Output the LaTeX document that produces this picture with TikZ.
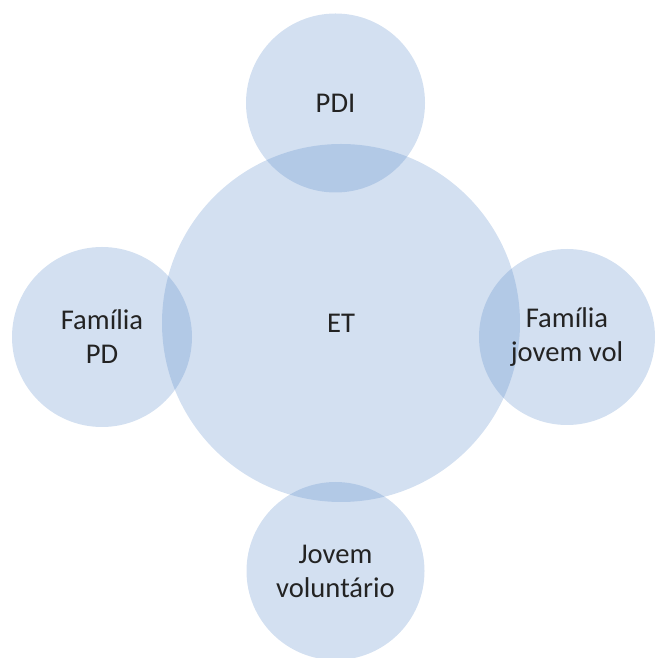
\documentclass[tikz,border=0pt]{standalone}
\usepackage{fontspec}
\setmainfont{Carlito}
\usepackage{tikz}
\usetikzlibrary{shapes.geometric}

\definecolor{setblue}{RGB}{85,135,200}
\definecolor{settext}{RGB}{35,35,35}

\begin{document}
\begin{tikzpicture}[
    x=1pt, y=1pt,
    set/.style={circle, fill=setblue, fill opacity=0.26, text opacity=1, text=settext, inner sep=0pt, align=center, font=\fontsize{28.6}{34}\selectfont},
]
\useasboundingbox (0,0) rectangle (655,658);
\node[set, minimum size=358pt] (et) at (341,335) {ET};
\node[set, minimum size=179pt] (pdi) at (335.5,555) {PDI};
\node[set, minimum size=180pt] (fampd) at (102,321) {Família\\PD};
\node[set, minimum size=176pt] (famjv) at (567,321) {Família\\jovem vol};
\node[set, minimum size=178pt] (jovem) at (335.5,87) {Jovem\\voluntário};
\end{tikzpicture}
\end{document}
